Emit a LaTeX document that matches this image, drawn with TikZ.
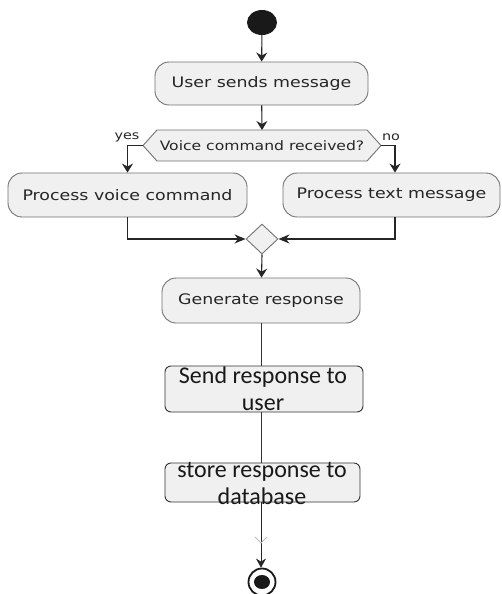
\documentclass[tikz,border=0pt]{standalone}
\usepackage{fontspec}
\usepackage{graphicx}
\usetikzlibrary{arrows.meta,calc,shapes.geometric}
\newfontfamily\dvfont{DejaVu Sans}
\newfontfamily\cbfont{Carlito}
\newcommand\hstretch[1]{\scalebox{1.2}[1]{#1}}
\tikzset{
  act/.style={draw=black!55, fill=black!6, line width=0.9pt, rounded corners=14pt,
    inner sep=0pt, font=\dvfont\fontsize{14.5}{17}\selectfont, text=black!85},
  plainbox/.style={draw=black!80, fill=black!6, line width=0.9pt, rounded corners=6pt, inner sep=0pt},
  lowtext/.style={font=\cbfont\fontsize{24}{27}\selectfont, align=center, inner sep=0pt, text=black!90},
  arr/.style={draw=black!85, line width=1.1pt, -{Stealth[length=9pt,width=11pt,inset=3pt]}},
  harr/.style={draw=black!85, line width=1.1pt, -{Stealth[length=11pt,width=9pt,inset=3.5pt]}},
  thinarr/.style={draw=black!85, line width=0.8pt, -{Stealth[length=9pt,width=10pt,inset=3pt]}},
  thin/.style={draw=black!80, line width=0.8pt},
  lbl/.style={font=\dvfont\fontsize{12}{14}\selectfont, text=black!85, inner sep=0pt}
}
\begin{document}
\begin{tikzpicture}[x=1pt,y=-1pt]
\useasboundingbox (0,0) rectangle (501,594);
\fill[white] (0,0) rectangle (501,594);

% start
\node (start) [ellipse, fill=black!90, minimum width=30pt, minimum height=25pt, inner sep=0pt] at (262,22.5) {};

% activities
\node (user) [act, minimum width=213pt, minimum height=43pt] at (261.5,83.5) {\hstretch{User sends message}};

% decision
\coordinate (dl) at (143,145.5);
\coordinate (dr) at (381,145.5);
\draw[draw=black!55, fill=black!6, line width=0.9pt]
  (dl) -- (157,130) -- (367,130) -- (dr) -- (367,161) -- (157,161) -- cycle;
\node (dec) [font=\dvfont\fontsize{13}{15}\selectfont, text=black!85, inner sep=0pt] at (262,146) {\hstretch{Voice command received?}};
\node (yes) [lbl] at (127,137) {\hstretch{yes}};
\node (no) [lbl] at (391,137) {\hstretch{no}};

\node (voice) [act, minimum width=239pt, minimum height=44pt] at (127.5,195) {\hstretch{Process voice command}};
\node (text) [act, minimum width=217pt, minimum height=44pt] at (391.5,195) {\hstretch{Process text message}};

% merge
\node (merge) [diamond, draw=black!55, fill=black!6, line width=0.9pt, inner sep=0pt, minimum width=32pt, minimum height=30pt] at (262,239) {};

\node (gen) [act, minimum width=198pt, minimum height=45pt] at (261,300.5) {\hstretch{Generate response}};

\node (send) [plainbox, minimum width=198pt, minimum height=46pt] at (264,389) {};
\node (sendt) [lowtext] at (263,389) {Send response to\\user};

\node (store) [plainbox, minimum width=195pt, minimum height=39pt] at (262.5,482.5) {};
\node (storet) [lowtext] at (262,483) {store response to\\database};

% end
\node (end) [circle, draw=black!90, line width=1.8pt, minimum size=27pt, inner sep=0pt] at (262,582) {};
\node (enddot) [ellipse, fill=black!90, minimum width=16pt, minimum height=14pt, inner sep=0pt] at (262,582) {};

% connectors
\draw[arr] (start) -- (user);
\draw[arr] (user) -- (262,130);
\draw[arr] (dl) -| (voice.north);
\draw[arr] (dr) -| ($(text.north)+(3.5,0)$);
\draw[harr] (voice.south) |- (merge.west);
\draw[harr] ($(text.south)+(3.5,0)$) |- (merge.east);
\draw[arr] (merge.south) -- (gen);
\draw[thin] (gen.south) -- (send.north -| gen.south);
\draw[thin] (send.south -| gen.south) -- (store.north -| gen.south);
\draw[thinarr] (store.south -| gen.south) -- (end.north -| gen.south);
% faint tip artefact
\draw[black!25, line width=0.8pt] (255,537) -- (261,543) -- (267,537);
\end{tikzpicture}
\end{document}
